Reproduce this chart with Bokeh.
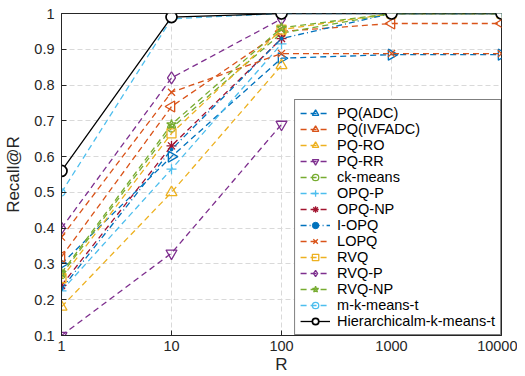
import math
from bokeh.plotting import figure
from bokeh.models import (Range1d, FixedTicker, CustomJSTickFormatter, Legend, LegendItem)
from bokeh.embed import file_html
from bokeh.resources import INLINE

R = [1, 10, 100, 1000, 10000]
x_ticks = [1, 10, 100, 1000, 10000]
y_ticks = [0.1, 0.2, 0.3, 0.4, 0.5, 0.6, 0.7, 0.8, 0.9, 1.0]

pq_adc = [0.30, 0.60, 0.875, 0.885, 0.885]
pq_ivfadc = [0.32, 0.74, 0.95, 0.972, 0.972]
pq_ro = [0.18, 0.50, 0.855, None, None]
pq_rr = [0.10, 0.33, 0.69, None, None]
ck_means = [0.27, 0.68, 0.945, 1.0, 1.0]
opq_p = [0.225, 0.565, 0.915, None, None]
opq_np = [0.24, 0.63, 0.93, None, None]
i_opq = [0.23, 0.62, 0.93, 1.0, 1.0]
lopq = [0.375, 0.78, 0.888, 0.888, 0.888]
rvq = [0.26, 0.665, 0.955, 1.0, 1.0]
rvq_p = [0.40, 0.82, 0.985, None, None]
rvq_np = [0.275, 0.69, 0.96, 1.0, 1.0]
mk_means_t = [0.50, 0.985, 1.0, 1.0, 1.0]
hier_mk_means_t = [0.56, 0.99, 1.0, 1.0, 1.0]

names = ["PQ(ADC)", "PQ(IVFADC)", "PQ-RO", "PQ-RR", "ck-means", "OPQ-P", "OPQ-NP",
         "I-OPQ", "LOPQ", "RVQ", "RVQ-P", "RVQ-NP", "m-k-means-t", "Hierarchicalm-k-means-t"]
series = [pq_adc, pq_ivfadc, pq_ro, pq_rr, ck_means, opq_p, opq_np,
          i_opq, lopq, rvq, rvq_p, rvq_np, mk_means_t, hier_mk_means_t]

BLUE, ORANGE, YELLOW, PURPLE, GREEN, CYAN, RED = ("#0072BD", "#D95319", "#EDB120",
                                                  "#7E2F8E", "#77AC30", "#4DBEEE", "#A2142F")
styles = [
    (BLUE, "triangle", -math.pi / 2, 11, "6 4"),
    (ORANGE, "triangle", math.pi / 2, 11, "6 4"),
    (YELLOW, "triangle", 0, 11, "6 4"),
    (PURPLE, "inverted_triangle", 0, 11, "6 4"),
    (GREEN, "circle", 0, 8, "6 4"),
    (CYAN, "cross", 0, 10, "6 4"),
    (RED, "asterisk", 0, 10, "6 4"),
    (BLUE, "dot", 0, 8, "6 3 1 3"),
    (ORANGE, "x", 0, 10, "6 4"),
    (YELLOW, "square", 0, 9, "6 4"),
    (PURPLE, "diamond", 0, 12, "6 4"),
    (GREEN, "star", 0, 10, "6 4"),
    (CYAN, "circle", 0, 7, "6 4"),
    ("#000000", "circle", 0, 11, "solid"),
]

FONT = "Liberation Sans"
TXT = "#262626"

p = figure(width=517, height=376, x_axis_type="log",
           x_range=Range1d(1, 10000), y_range=Range1d(0.1, 1.0),
           output_backend="svg", toolbar_location=None,
           min_border_left=61, min_border_right=16, min_border_top=13, min_border_bottom=40)

p.outline_line_color = TXT
p.outline_line_width = 1
p.background_fill_color = "white"
p.border_fill_color = "white"

items = []
for name, vals, (col, mk, ang, sz, dash) in zip(names, series, styles):
    xs = [x for x, v in zip(R, vals) if v is not None]
    ys = [v for v in vals if v is not None]
    lr = p.line(xs, ys, line_color=col, line_width=1.3, line_dash=dash)
    if name.startswith("Hierarchical"):
        sr = p.scatter(xs, ys, marker=mk, size=sz, line_color=col, fill_color="white", line_width=1.7)
    elif mk == "dot":
        sr = p.scatter(xs, ys, marker="circle", size=3, line_color=col, fill_color=col)
    else:
        sr = p.scatter(xs, ys, marker=mk, size=sz, angle=ang, line_color=col,
                       fill_color=None, line_width=1.3)
    items.append(LegendItem(label=name, renderers=[lr, sr]))

legend = Legend(items=items, location="bottom_right")
legend.margin = 0
legend.padding = 5
legend.spacing = 0
legend.label_height = 16
legend.glyph_height = 16
legend.glyph_width = 30
legend.label_standoff = 7
legend.label_text_font = FONT
legend.label_text_font_size = "14.5px"
legend.label_text_color = "#000000"
legend.border_line_color = "#000000"
legend.border_line_width = 1
legend.background_fill_color = "white"
legend.background_fill_alpha = 1
p.add_layout(legend)

p.xaxis.ticker = FixedTicker(ticks=x_ticks, minor_ticks=[])
p.xaxis.formatter = CustomJSTickFormatter(code="return String(Math.round(tick));")
p.yaxis.ticker = FixedTicker(ticks=y_ticks, minor_ticks=[])
p.yaxis.formatter = CustomJSTickFormatter(code="return String(Math.round(tick*10)/10);")

for ax in (p.xaxis, p.yaxis):
    ax.axis_line_color = TXT
    ax.major_tick_line_color = TXT
    ax.major_tick_in = 5
    ax.major_tick_out = 0
    ax.minor_tick_line_color = None
    ax.major_label_text_font = FONT
    ax.major_label_text_font_size = "14.5px"
    ax.major_label_text_color = TXT
    ax.axis_label_text_font = FONT
    ax.axis_label_text_font_size = "17px"
    ax.axis_label_text_font_style = "normal"
    ax.axis_label_text_color = TXT

p.xaxis.axis_label = "R"
p.yaxis.axis_label = "Recall@R"
p.xaxis.major_label_standoff = 5
p.xaxis.axis_label_standoff = 1
p.yaxis.major_label_standoff = 7
p.yaxis.axis_label_standoff = 8

for g in (p.xgrid, p.ygrid):
    g.grid_line_color = "#d9d9d9"
    g.grid_line_dash = "5 3"
    g.grid_line_width = 1
p.xgrid.ticker = FixedTicker(ticks=x_ticks, minor_ticks=[])
p.ygrid.ticker = FixedTicker(ticks=y_ticks, minor_ticks=[])

open("out.html", "w").write(file_html(p, INLINE))
